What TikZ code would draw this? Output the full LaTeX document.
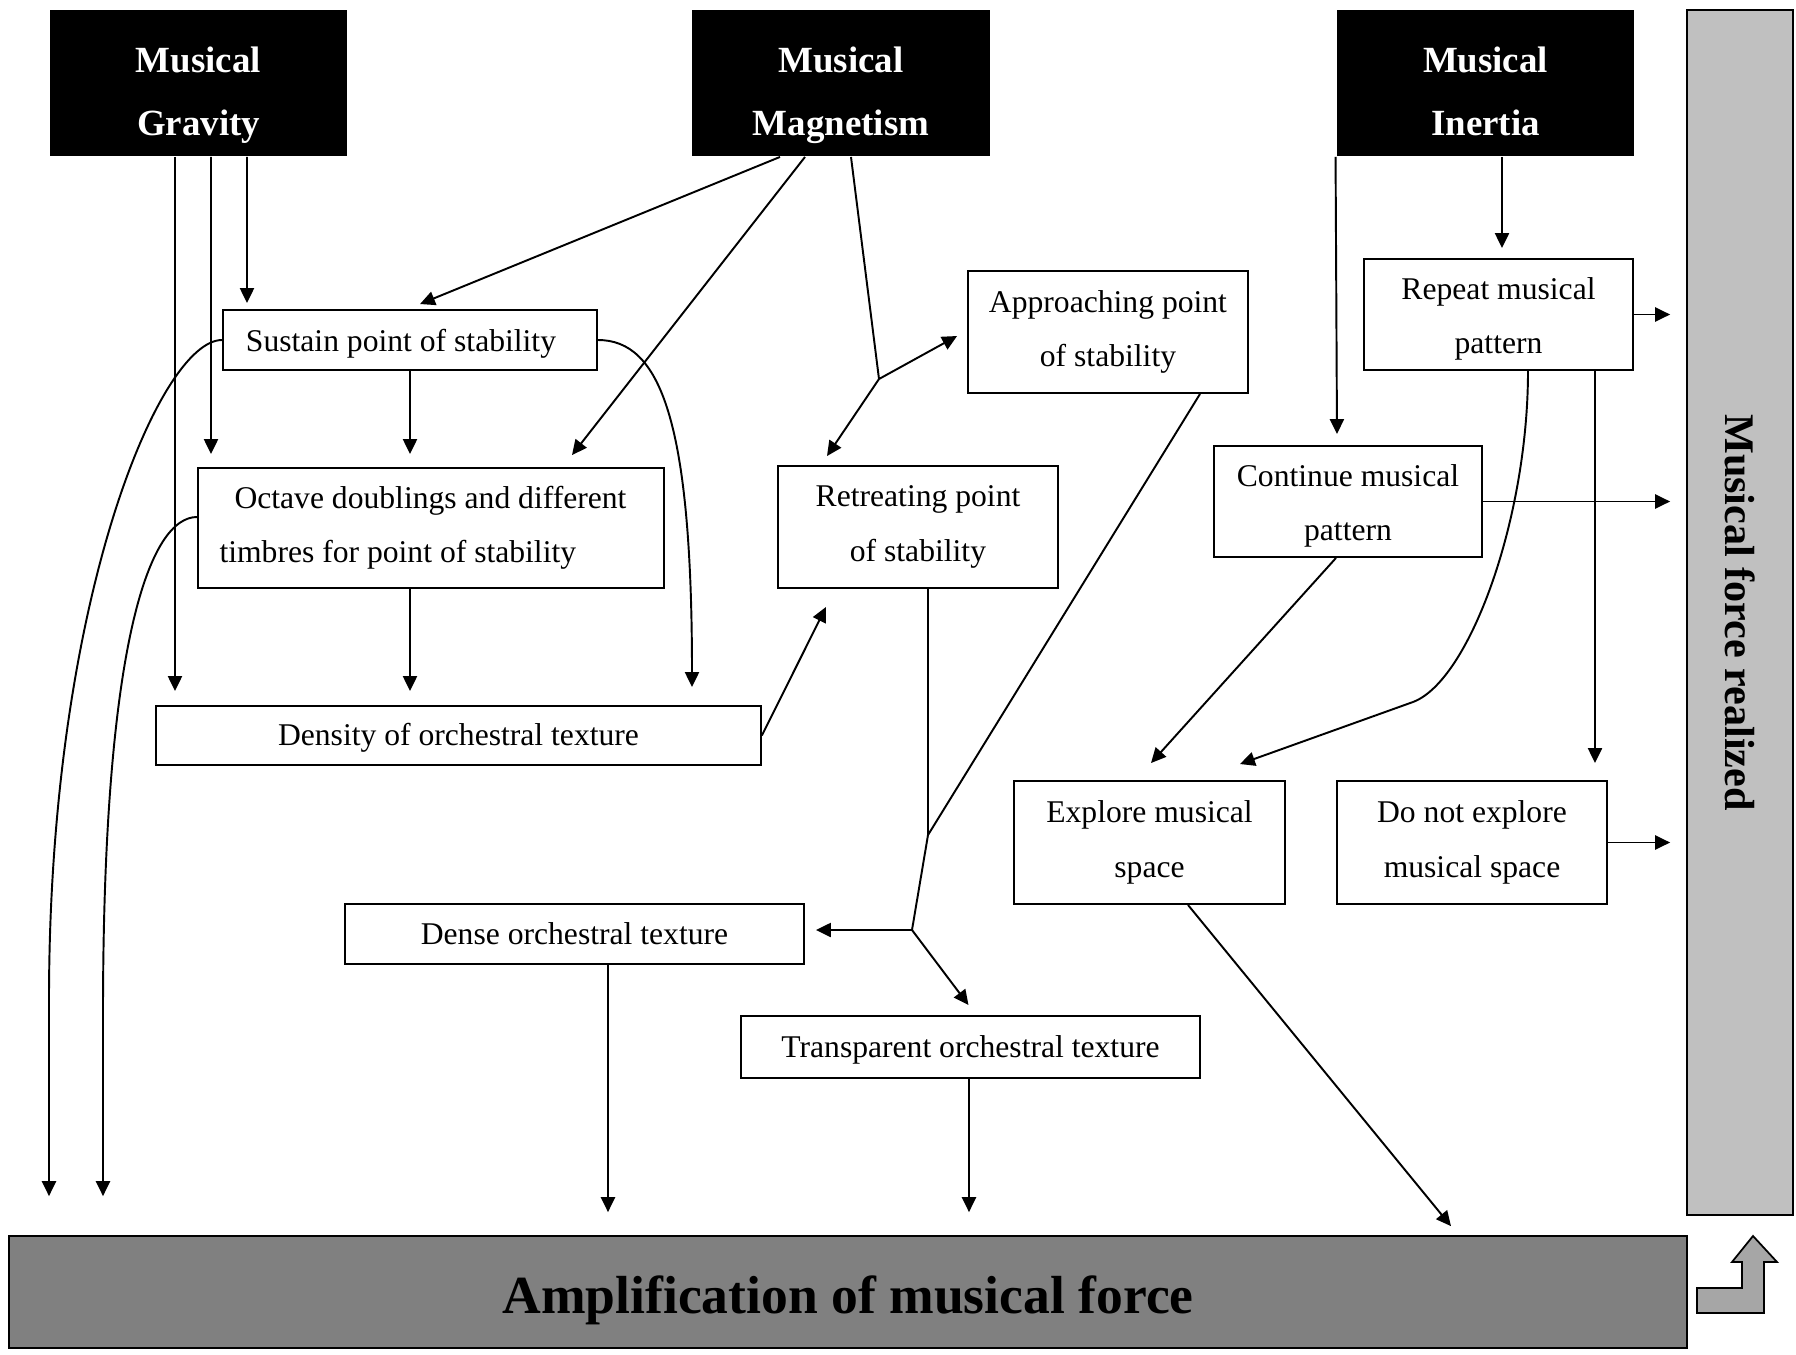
\documentclass[tikz,border=0pt]{standalone}
\usepackage{fontspec}
\setmainfont{Liberation Serif}
\usetikzlibrary{arrows.meta,calc}
\definecolor{ampgray}{HTML}{808080}
\definecolor{bargray}{HTML}{C0C0C0}
\definecolor{bentgray}{HTML}{A6A6A6}
\begin{document}
\begin{tikzpicture}[x=0.02cm,y=-0.02cm,line width=1.1pt,
  arr/.style={-{Triangle[length=8.5pt,width=8pt]}},
  box/.style={draw,fill=white,inner sep=0pt,align=center,
    font=\fontsize{18}{31}\selectfont},
  head/.style={fill=black,inner sep=0pt,minimum width=5.96cm,minimum height=2.92cm},
  headtext/.style={text=white,inner sep=0pt,align=center,
    font=\fontsize{21}{36}\bfseries\selectfont},
  bigbar/.style={draw,line width=1pt,inner sep=0pt},
]
\useasboundingbox (0,0) rectangle (1796,1355);

% headers
\node[head] (grav) at (198.5,83) {};
\node[head] (mag)  at (841,83)   {};
\node[head] (ine)  at (1485.5,83) {};
\node[headtext] (gravt) at ($(grav.center)+(0,12)$) {Musical\\Gravity\vphantom{y}};
\node[headtext] (magt)  at ($(mag.center)+(0,12)$)  {Musical\\Magnetism\vphantom{y}};
\node[headtext] (inet)  at ($(ine.center)+(0,12)$)  {Musical\\Inertia\vphantom{y}};

% result bars
\node[bigbar,fill=bargray,minimum width=2.12cm,minimum height=24.1cm] (rbar) at (1740,612.5) {};
\node[rotate=-90,font=\fontsize{24}{28}\bfseries\selectfont] (rtext) at (rbar.center) {Musical force realized};
\node[bigbar,fill=ampgray,minimum width=33.56cm,minimum height=2.24cm] (amp) at (848,1292) {};
\node[font=\fontsize{30.5}{36}\bfseries\selectfont,inner sep=0pt] (ampt) at ($(amp.center)+(0,8)$)
  {Amplification of musical force};

% bent arrow
\draw[line width=1pt,fill=bentgray] (1697,1288) -- (1742,1288) -- (1742,1262) -- (1732,1262)
  -- (1753,1236) -- (1777,1262) -- (1764,1262) -- (1764,1313) -- (1697,1313) -- cycle;

% boxes
\node[box,minimum width=7.48cm,minimum height=1.2cm] (sus) at (410,340)
  {\rule{0pt}{17.4pt}Sustain point of stability\hspace*{0.36cm}};
\node[box,align=left,minimum width=9.32cm,minimum height=2.4cm] (oct) at (431,528)
  {\hspace*{0.3cm}Octave doublings and different\hspace*{0.32cm}\\timbres for point of stability};
\node[box,minimum width=12.1cm,minimum height=1.18cm] (den) at (458.5,735.5)
  {\rule{0pt}{15pt}Density of orchestral texture};
\node[box,minimum width=5.6cm,minimum height=2.44cm] (app) at (1108,332) {Approaching point\\of stability};
\node[box,minimum width=5.6cm,minimum height=2.44cm] (ret) at (918,527) {Retreating point\\of stability};
\node[box,minimum width=5.38cm,minimum height=2.22cm] (rep) at (1498.5,314.5)
  {\rule{0pt}{17.5pt}Repeat musical\\pattern};
\node[box,minimum width=5.36cm,minimum height=2.22cm] (con) at (1348,501.5)
  {\rule{0pt}{17.5pt}Continue musical\\pattern};
\node[box,minimum width=5.42cm,minimum height=2.46cm] (exp) at (1149.5,842.5) {Explore musical\\space};
\node[box,minimum width=5.4cm,minimum height=2.46cm] (dne) at (1472,842.5) {Do not explore\\musical space};
\node[box,minimum width=9.18cm,minimum height=1.2cm] (dns) at (574.5,934) {Dense orchestral texture};
\node[box,minimum width=9.18cm,minimum height=1.24cm] (trn) at (970.5,1047)
  {\rule{0pt}{16.3pt}Transparent orchestral texture};

% gravity
\draw[arr] ($(grav.south)+(48.5,0)$) -- ($(sus.north)+(-163,-6)$);
\draw[arr] ($(grav.south)+(12.5,0)$) -- ($(oct.north)+(-220,-13)$);
\draw[arr] ($(grav.south)+(-23.5,0)$) -- ($(den.north)+(-283.5,-14)$);
\draw[arr] (sus.south) -- ($(oct.north)+(-21,-13)$);
\draw[arr] ($(oct.south)+(-21,0)$) -- ($(den.north)+(-48.5,-14)$);
\draw[arr] (sus.east) .. controls (660,340) and (692,420) .. ($(den.north)+(233.5,-18)$);
\draw[arr] (sus.west) .. controls (160,340) and (49,600) .. (49,1000) -- ($(amp.north)+(-799,-39)$);
\draw[arr] ($(oct.west)+(0,-11)$) .. controls (150,517) and (103,640) .. (103,1014) -- ($(amp.north)+(-745,-39)$);

% magnetism
\draw[arr] ($(mag.south)+(-61,0)$) -- ($(sus.north)+(10,-5)$);
\draw[arr] ($(mag.south)+(-36,0)$) -- ($(oct.north)+(141,-12)$);
\coordinate (mj) at (879,379);
\draw ($(mag.south)+(10,0)$) -- (mj);
\draw[arr] (mj) -- ($(app.west)+(-10,4)$);
\draw[arr] (mj) -- ($(ret.north)+(-91,-9)$);
\draw[arr] (den.east) -- ($(ret.south)+(-92,18)$);

% retreating / approaching to textures
\coordinate (rj) at (928,835);
\coordinate (rk) at (912,930);
\draw ($(ret.south)+(10,0)$) -- (rj);
\draw ($(app.south)+(92,0)$) -- (rj) -- (rk);
\draw[arr] (rk) -- ($(dns.east)+(11,-4)$);
\draw[arr] (rk) -- ($(trn.north)+(-2,-10)$);
\draw[arr] ($(dns.south)+(33.5,0)$) -- ($(amp.north)+(-240,-23)$);
\draw[arr] ($(trn.south)+(-1.5,0)$) -- ($(amp.north)+(121,-23)$);
\draw[arr] ($(exp.south)+(38.5,0)$) -- ($(amp.north)+(603,-9)$);

% inertia
\draw[arr] (ine.south west) -- ($(con.north)+(-11,-11)$);
\draw[arr] ($(ine.south)+(16.5,0)$) -- ($(rep.north)+(3.5,-10)$);
\draw[arr,shorten >=0.32cm] (rep.east) -- (rep.east -| rbar.west);
\draw[arr,shorten >=0.32cm] (con.east) -- (con.east -| rbar.west);
\draw[arr,shorten >=0.32cm] (dne.east) -- (dne.east -| rbar.west);
\draw[arr] ($(rep.south)+(96.5,0)$) -- ($(dne.north)+(123,-17)$);
\draw[arr] ($(rep.south)+(29.5,0)$) .. controls (1528,520) and (1469,681) .. (1413,702)
  -- ($(exp.north)+(90.5,-16)$);
\draw[arr] ($(con.south)+(-12,0)$) -- ($(exp.north)+(1.5,-17)$);
\end{tikzpicture}
\end{document}
